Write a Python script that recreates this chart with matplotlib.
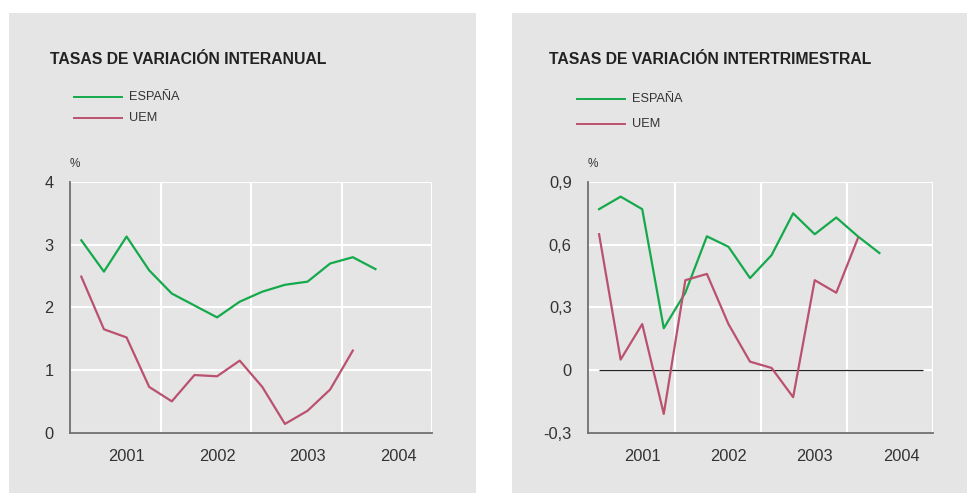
import matplotlib
matplotlib.use("Agg")
import matplotlib.pyplot as plt
from matplotlib.patches import Rectangle
from matplotlib.ticker import FixedLocator

plt.rcParams['font.family'] = ['Liberation Sans', 'DejaVu Sans']

# quarterly index, 2001-I .. 2004-II
quarters = list(range(14))
years = ['2001', '2002', '2003', '2004']

# interanual (%)
esp_ia = [3.07, 2.57, 3.13, 2.59, 2.22, 2.03, 1.84, 2.09, 2.25, 2.36, 2.41, 2.70, 2.80, 2.61]
uem_ia = [2.49, 1.65, 1.52, 0.73, 0.50, 0.92, 0.90, 1.15, 0.73, 0.14, 0.35, 0.69, 1.31]

# intertrimestral (%)
esp_it = [0.77, 0.83, 0.77, 0.20, 0.37, 0.64, 0.59, 0.44, 0.55, 0.75, 0.65, 0.73, 0.64, 0.56]
uem_it = [0.65, 0.05, 0.22, -0.21, 0.43, 0.46, 0.22, 0.04, 0.01, -0.13, 0.43, 0.37, 0.63]

GREEN = '#14aa4b'
RED = '#ba516f'
BG = '#e5e5e5'
TXT = '#333333'

W, H = 967, 493
fig = plt.figure(figsize=(W / 100, H / 100), dpi=100)
fig.patch.set_facecolor('white')


def px_axes(x0, y0, x1, y1, **kw):
    return fig.add_axes([x0 / W, 1 - y1 / H, (x1 - x0) / W, (y1 - y0) / H], **kw)


def panel(px0, px1, tx, leg_y, ax0, ax1, title, esp, uem, ylim, yticks, ylabels, zero_line):
    fig.add_artist(Rectangle((px0 / W, 0), (px1 - px0) / W, 1 - 13 / H,
                             transform=fig.transFigure, facecolor=BG,
                             edgecolor='none', zorder=0))
    fig.text(tx / W, 1 - 60 / H, title, fontsize=11.3, color='#222222',
             va='center', ha='left', fontweight='bold')
    # legend
    lx0, lx1 = px0 + 65, px0 + 113
    for yy, col, lab in zip(leg_y, [GREEN, RED], ['ESPAÑA', 'UEM']):
        fig.add_artist(plt.Line2D([lx0 / W, lx1 / W], [1 - yy / H, 1 - yy / H],
                                  color=col, lw=1.4, transform=fig.transFigure))
        fig.text((lx1 + 7) / W, 1 - yy / H, lab, fontsize=9.2, color=TXT,
                 va='center', ha='left')

    ax = px_axes(ax0, 182, ax1, 432.7)
    ax.set_facecolor(BG)
    ax.plot(quarters, esp, color=GREEN, lw=1.6, zorder=3)
    ax.plot(quarters[:len(uem)], uem, color=RED, lw=1.6, zorder=3)
    if zero_line:
        ax.hlines(0, 0, 15, color='#222222', lw=0.9, zorder=2)
    ax.set_xlim(-0.5, 15.5)
    ax.set_ylim(*ylim)
    ax.set_xticks([2, 6, 10, 14])
    ax.set_xticklabels(years)
    ax.xaxis.set_minor_locator(FixedLocator([3.5, 7.5, 11.5, 15.5]))
    ax.set_yticks(yticks)
    ax.set_yticklabels(ylabels)
    ax.grid(True, which='minor', axis='x', color='white', lw=1.5)
    ax.grid(True, which='major', axis='y', color='white', lw=1.5)
    ax.set_axisbelow(True)
    ax.tick_params(which='both', length=0, labelsize=11.8, colors=TXT)
    ax.tick_params(axis='x', pad=12)
    ax.tick_params(axis='y', pad=12)
    for s in ['top', 'right']:
        ax.spines[s].set_visible(False)
    for s in ['left', 'bottom']:
        ax.spines[s].set_color('#707070')
        ax.spines[s].set_linewidth(1.3)
        ax.spines[s].set_zorder(4)
    fig.text((ax0 + 5) / W, 1 - 164 / H, '%', fontsize=8.5, color=TXT,
             ha='center', va='center')
    return ax


panel(9, 476, 50, (97, 118), 70, 432, 'TASAS DE VARIACIÓN INTERANUAL', esp_ia, uem_ia,
      (0, 4), [0, 1, 2, 3, 4], ['0', '1', '2', '3', '4'], False)
panel(512, 967, 549, (99, 124), 588.3, 933.3, 'TASAS DE VARIACIÓN INTERTRIMESTRAL',
      esp_it, uem_it,
      (-0.3, 0.9), [-0.3, 0, 0.3, 0.6, 0.9], ['-0,3', '0', '0,3', '0,6', '0,9'], True)

fig.savefig('out.png', dpi=100, facecolor='white')
